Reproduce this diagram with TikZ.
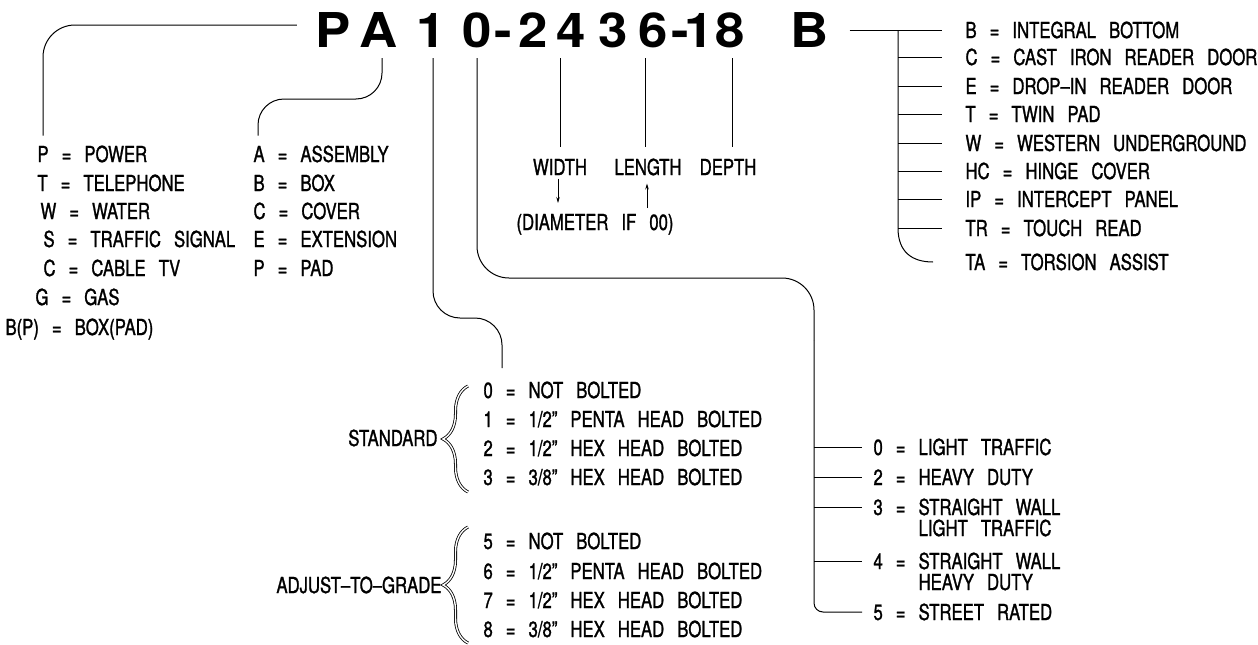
\documentclass[tikz,border=0pt]{standalone}
\usepackage{fontspec}
\setmainfont{TeX Gyre Heros}[FakeStretch=0.76,WordSpace=2.8,FakeBold=1.2]
\newfontfamily\titlefont{TeX Gyre Heros}[FakeStretch=1.1]
\usetikzlibrary{arrows.meta,decorations.pathreplacing}
\begin{document}
\begin{tikzpicture}[x=1pt, y=-1pt, line width=1pt,
    chr/.style = {anchor=base, inner sep=0pt, font=\titlefont\bfseries\fontsize{48}{48}\selectfont},
    item/.style = {anchor=west, inner sep=0pt, text height=16pt, text depth=0pt, font=\fontsize{22}{22}\selectfont},
    lbl/.style = {item, anchor=center},
    brc/.style = {decorate, decoration={brace, amplitude=25pt}, double, double distance=1.4pt, line width=0.8pt},
    tip/.style = {-{Stealth[length=6pt, width=3.5pt]}, line width=0.7pt}]
  \useasboundingbox (0,0) rectangle (1258,645);
  \coordinate (top) at (0,58);

  % part number
  \node[chr] (cP)     at (333,47) {P};
  \node[chr] (cA)     at (379,47) {A};
  \node[chr] (cOne)   at (431,47) {1};
  \node[chr] (cZero)  at (477,47) {0};
  \node[chr] (cDashA) at (503,47) {-};
  \node[chr] (cTwo)   at (533,47) {2};
  \node[chr] (cFour)  at (571,47) {4};
  \node[chr] (cThree) at (613,47) {3};
  \node[chr] (cSix)   at (653,47) {6};
  \node[chr] (cDashB) at (680,47) {-};
  \node[chr] (cOneB)  at (699,47) {1};
  \node[chr] (cEight) at (730,47) {8};
  \node[chr] (cB)     at (810,47) {B};

  % service
  \node[item] (sP) at (37,154) {P = POWER};
  \node[item] (sT) at (37,183) {T = TELEPHONE};
  \node[item] (sW) at (40,211) {W = WATER};
  \node[item] (sS) at (43,239) {S = TRAFFIC SIGNAL};
  \node[item] (sC) at (43,268) {C = CABLE TV};
  \node[item] (sG) at (35,297) {G = GAS};
  \node[item] (sB) at (5,327) {B(P) = BOX(PAD)};
  \draw[rounded corners=32pt] ([xshift=-18pt]cP.west |- 0,25) -| ([shift={(6pt,10pt)}]sP.north west);

  % product
  \node[item] (pA) at (253,154) {A = ASSEMBLY};
  \node[item] (pB) at (253,183) {B = BOX};
  \node[item] (pC) at (253,211) {C = COVER};
  \node[item] (pE) at (253,239) {E = EXTENSION};
  \node[item] (pP) at (253,268) {P = PAD};
  \draw[rounded corners=26pt] ([xshift=3pt]cA |- top) -- ([xshift=3pt]cA |- 0,99) -- ([xshift=5pt]pA.west |- 0,99) -- ([shift={(5pt,10pt)}]pA.north west);

  % bolting
  \node[item, anchor=east] (lStd) at (438,438) {STANDARD};
  \node[item] (n0) at (483,390) {0 = NOT BOLTED};
  \node[item] (n1) at (483,419) {1 = 1/2" PENTA HEAD BOLTED};
  \node[item] (n2) at (483,448) {2 = 1/2" HEX HEAD BOLTED};
  \node[item] (n3) at (483,477) {3 = 3/8" HEX HEAD BOLTED};
  \node[item, anchor=east] (lAdj) at (442,585) {ADJUST--TO--GRADE};
  \node[item] (n5) at (483,541) {5 = NOT BOLTED};
  \node[item] (n6) at (483,571) {6 = 1/2" PENTA HEAD BOLTED};
  \node[item] (n7) at (483,600) {7 = 1/2" HEX HEAD BOLTED};
  \node[item] (n8) at (483,629) {8 = 3/8" HEX HEAD BOLTED};
  \draw[brc] (468,492) -- (468,386);
  \draw[brc] (468,643) -- (468,527);
  \draw[rounded corners=27pt] ([xshift=2pt]cOne |- top) -- ([xshift=2pt]cOne |- 0,318) -- (502,318) -- (502,368);

  % load rating
  \node[item] (r0)  at (873,447) {0 = LIGHT TRAFFIC};
  \node[item] (r2)  at (873,477) {2 = HEAVY DUTY};
  \node[item] (r3)  at (873,507) {3 = STRAIGHT WALL};
  \node[item] (r3b) at (873,528) {\hphantom{3 = }LIGHT TRAFFIC};
  \node[item] (r4)  at (873,561) {4 = STRAIGHT WALL};
  \node[item] (r4b) at (873,582) {\hphantom{4 = }HEAVY DUTY};
  \node[item] (r5)  at (873,612) {5 = STREET RATED};
  \coordinate (trunk) at (814,0);
  \draw[rounded corners=32pt] (cZero |- top) -- (cZero |- 0,278) -- (trunk |- 0,278) -- (trunk |- 0,340);
  \draw[rounded corners=9pt] (trunk |- 0,340) -- (trunk |- r5) -- ([xshift=-11pt]r5.west);
  \foreach \r in {r0,r2,r3,r4}
    \draw (trunk |- \r) -- ([xshift=-11pt]\r.west);

  % size
  \node[lbl] (lWidth)  at (560,167) {WIDTH};
  \node[lbl] (lLength) at (648,167) {LENGTH};
  \node[lbl] (lDepth)  at (728,167) {DEPTH};
  \node[lbl] (lDiam)   at (595,222) {(DIAMETER IF 00)};
  \draw (lWidth |- top) -- ([yshift=12pt]lWidth.north);
  \draw ([xshift=-3pt]lLength |- top) -- ([shift={(-3pt,12pt)}]lLength.north);
  \draw ([xshift=4pt]lDepth |- top) -- ([shift={(4pt,12pt)}]lDepth.north);
  \draw[tip] ([shift={(-2pt,-3pt)}]lWidth.south) -- ([xshift=-2pt]lWidth.south |- 0,203);
  \draw[tip] ([xshift=-1pt]lLength.south |- 0,208) -- ([shift={(-1pt,-8pt)}]lLength.south);

  % options
  \node[item] (oB)  at (965,30)  {B = INTEGRAL BOTTOM};
  \node[item] (oC)  at (965,57)  {C = CAST IRON READER DOOR};
  \node[item] (oE)  at (965,86)  {E = DROP--IN READER DOOR};
  \node[item] (oT)  at (965,114) {T = TWIN PAD};
  \node[item] (oW)  at (965,143) {W = WESTERN UNDERGROUND};
  \node[item] (oHC) at (965,171) {HC = HINGE COVER};
  \node[item] (oIP) at (965,199) {IP = INTERCEPT PANEL};
  \node[item] (oTR) at (965,228) {TR = TOUCH READ};
  \node[item] (oTA) at (965,262) {TA = TORSION ASSIST};
  \coordinate (stem) at (898,0);
  \draw ([xshift=20pt]cB.east |- oB) -- ([xshift=-23pt]oB.west);
  \draw (stem |- oB) -- (stem |- oTR) .. controls (898,252) and (912,262) .. ([xshift=-32pt]oTA.west);
  \foreach \o in {oC,oE,oT,oW,oHC,oIP,oTR}
    \draw (stem |- \o) -- ([xshift=-23pt]\o.west);
\end{tikzpicture}
\end{document}
